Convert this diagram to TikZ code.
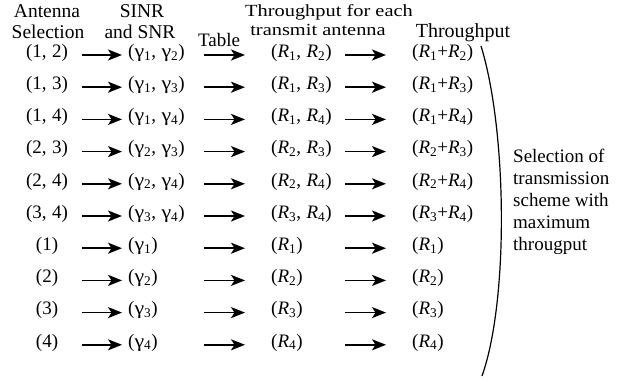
\documentclass[tikz,border=0pt]{standalone}
\usepackage{fontspec}
\setmainfont{Liberation Serif}
\usetikzlibrary{arrows.meta}
\newcommand\Rsub[1]{\textit{R}\textsubscript{#1}}
\newcommand\Gsub[1]{\scalebox{1.15}[1]{γ}\textsubscript{#1}}
\newcommand\cs{,\hspace{5.5pt}}
\newcommand\wide[1]{\scalebox{1.2}[1]{#1}}
\begin{document}
\begin{tikzpicture}[x=1pt,y=-1pt,
  cell/.style={inner sep=0pt,font=\fontsize{19}{21}\selectfont},
  head/.style={inner sep=0pt,align=center,font=\fontsize{19.5}{22}\selectfont},
  small/.style={inner sep=0pt,font=\fontsize{17}{19}\selectfont},
  arr/.style={line width=1.6pt,-{Stealth[length=14pt,width=11pt,inset=3.5pt]}},
  brace/.style={line width=1.2pt}]
\useasboundingbox (0,0) rectangle (620,381);
% headers
\node[head,anchor=base] (hA1) at (47,17) {Antenna};
\node[head,anchor=base] (hA2) at (48,38.5) {Selection};
\node[head,anchor=base] (hS1) at (142,17) {SINR};
\node[head,anchor=base] (hS2) at (140,38.5) {and SNR};
\node[head,anchor=base,font=\fontsize{19}{21}\selectfont] (hT) at (219,46) {Table};
\node[small,anchor=base] (hR1) at (329,16) {\wide{Throughput for each}};
\node[small,anchor=base] (hR2) at (318,35) {\wide{transmit antenna}};
\node[head,anchor=base,font=\fontsize{20}{22}\selectfont] (hTp) at (463,37.5) {Throughput};
% rows
\foreach \i/\a/\g/\r/\s [count=\k from 0] in {
  1/{(1\cs 2)}/{(\Gsub1\cs\Gsub2)}/{(\Rsub1\cs\Rsub2)}/{(\Rsub1+\Rsub2)},
  2/{(1\cs 3)}/{(\Gsub1\cs\Gsub3)}/{(\Rsub1\cs\Rsub3)}/{(\Rsub1+\Rsub3)},
  3/{(1\cs 4)}/{(\Gsub1\cs\Gsub4)}/{(\Rsub1\cs\Rsub4)}/{(\Rsub1+\Rsub4)},
  4/{(2\cs 3)}/{(\Gsub2\cs\Gsub3)}/{(\Rsub2\cs\Rsub3)}/{(\Rsub2+\Rsub3)},
  5/{(2\cs 4)}/{(\Gsub2\cs\Gsub4)}/{(\Rsub2\cs\Rsub4)}/{(\Rsub2+\Rsub4)},
  6/{(3\cs 4)}/{(\Gsub3\cs\Gsub4)}/{(\Rsub3\cs\Rsub4)}/{(\Rsub3+\Rsub4)},
  7/{(1)}/{(\Gsub1)}/{(\Rsub1)}/{(\Rsub1)},
  8/{(2)}/{(\Gsub2)}/{(\Rsub2)}/{(\Rsub2)},
  9/{(3)}/{(\Gsub3)}/{(\Rsub3)}/{(\Rsub3)},
  10/{(4)}/{(\Gsub4)}/{(\Rsub4)}/{(\Rsub4)}} {
  \pgfmathsetmacro\yy{55+32.2*\k}
  \node[cell,anchor=mid] (a\i) at (47,\yy) {\a};
  \node[cell,anchor=mid west] (g\i) at (128,\yy) {\g};
  \node[cell,anchor=mid west] (r\i) at (271,\yy) {\r};
  \node[cell,anchor=mid west] (s\i) at (412,\yy) {\s};
  \coordinate (p\i) at (82,\yy);  \coordinate (q\i) at (122,\yy);
  \coordinate (u\i) at (204,\yy); \coordinate (v\i) at (245,\yy);
  \coordinate (w\i) at (345,\yy); \coordinate (z\i) at (386,\yy);
  \draw[arr] (p\i) -- (q\i);
  \draw[arr] (u\i) -- (v\i);
  \draw[arr] (w\i) -- (z\i);
}
% bracket
\coordinate (bt) at (481,46);
\coordinate (bb) at (482,376);
\draw[brace] (bt) .. controls (507,130) and (509,300) .. (bb);
\node[head,align=left,anchor=north west,font=\fontsize{19}{22}\selectfont] (sel) at (513,149)
  {Selection of\\transmission\\scheme with\\maximum\\througput};
\end{tikzpicture}
\end{document}
